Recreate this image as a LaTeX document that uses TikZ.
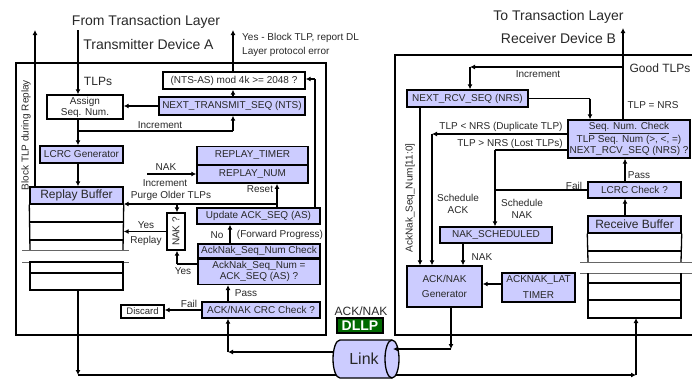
\documentclass[tikz,border=0pt]{standalone}
\usepackage{fontspec}
\setmainfont{Liberation Sans}
\usepackage{graphicx}
\usetikzlibrary{arrows.meta}
\definecolor{lav}{RGB}{204,204,255}
\definecolor{dgreen}{RGB}{0,105,0}
\definecolor{txt}{RGB}{40,40,40}
\begin{document}
\begin{tikzpicture}[x=1pt,y=-1pt,
 box/.style={draw=black,line width=1.4pt,fill=lav,inner sep=0pt,align=center,text=txt,font=\fontsize{10}{11}\selectfont},
 wbox/.style={box,fill=white},
 lbl/.style={inner sep=0pt,text=txt,font=\fontsize{10}{12}\selectfont,align=center},
 mid/.style={inner sep=0pt,text=txt,font=\fontsize{12}{14}\selectfont},
 big/.style={inner sep=0pt,text=txt,font=\fontsize{14}{16}\selectfont},
 arr/.style={line width=1.5pt,-{Latex[length=5pt,width=5pt]}},
 ln/.style={line width=1.5pt},
 dev/.style={line width=1.3pt},
 brk/.style={line width=0.8pt,draw=black!60},
]
\useasboundingbox (0,0) rectangle (692,378);
\clip (0,0) rectangle (692,378);

% ---------- device frames ----------
\draw[dev] (16,63) rectangle (326,335);
\draw[dev] (395,55) rectangle (705,335);

% ---------- titles ----------
\node[big] (fromA) at (146,22) {From Transaction Layer};
\node[big] (txA) at (148.5,44) {Transmitter Device A};
\node[big] (toB) at (558.5,17) {To Transaction Layer};
\node[big] (rxB) at (558.5,38) {Receiver Device B};

% ---------- device A nodes ----------
\node[wbox,minimum width=76,minimum height=24] (assign) at (85,107) {Assign\\Seq. Num.};
\node[box,minimum width=146,minimum height=18] (nts) at (232,106) {NEXT\_TRANSMIT\_SEQ (NTS)};
\node[wbox,minimum width=142,minimum height=17] (ntsas) at (234,80.5) {(NTS-AS) mod 4k >= 2048 ?};
\node[box,minimum width=83,minimum height=17] (lcrcg) at (81.5,154.5) {LCRC Generator};
\node[box,minimum width=93,minimum height=17,font=\fontsize{12}{14}\selectfont] (rbuf) at (76.5,195.5) {Replay Buffer};
\node[box,minimum width=111,minimum height=17.5] (rtimer) at (252.5,155.5) {REPLAY\_TIMER};
\node[box,minimum width=111,minimum height=17.5,anchor=north] (rnum) at (rtimer.south) {REPLAY\_NUM};
\node[box,minimum width=123,minimum height=16] (upas) at (258.5,216) {Update ACK\_SEQ (AS)};
\node[wbox,minimum width=18,minimum height=37] (nakq) at (176,231.5) {\rotatebox{90}{NAK ?}};
\node[box,minimum width=122,minimum height=14] (ackh) at (259,251) {AckNak\_Seq\_Num Check};
\node[box,minimum width=122,minimum height=25,anchor=north] (ackb) at (ackh.south) {AckNak\_Seq\_Num =\\ACK\_SEQ (AS) ?};
\node[box,minimum width=118,minimum height=16] (crc) at (261,310) {ACK/NAK CRC Check ?};
\node[wbox,minimum width=43,minimum height=13,font=\fontsize{9.5}{11}\selectfont] (discard) at (142.5,311.5) {Discard};

% replay buffer rows
\draw[dev] (rbuf.south west) -- (30,250) (rbuf.south east) -- (123,250);
\draw[dev] (30,222) -- (123,222) (30,240) -- (123,240);
\draw[brk] (22,250) -- (129,250) (22,262) -- (129,262);
\draw[dev] (30,262) rectangle (123,290) (30,273) -- (123,273);
\coordinate (rbufbot) at (78,290);

% ---------- device A labels ----------
\node[mid] (tlps) at (98,81) {TLPs};
\node[lbl,rotate=90] (blk) at (26,135) {Block TLP during Replay};
\node[lbl,anchor=west] (yesblk) at (242,38) {Yes - Block TLP, report DL};
\node[lbl,anchor=west] (lpe) at (242,52) {Layer protocol error};
\node[lbl] (incA) at (160,125) {Increment};
\node[lbl] (nakA) at (166,167) {NAK};
\node[lbl] (incA2) at (165,183) {Increment};
\node[lbl] (purge) at (171,196) {Purge Older TLPs};
\node[lbl] (reset) at (260,189) {Reset};
\node[lbl] (yes1) at (146,225) {Yes};
\node[lbl] (replay) at (146,241) {Replay};
\node[lbl] (yes2) at (183,271) {Yes};
\node[lbl] (no) at (217,235) {No};
\node[lbl] (fwd) at (280,235) {(Forward Progress)};
\node[lbl] (passA) at (246,293) {Pass};
\node[lbl] (failA) at (189,304) {Fail};

% ---------- device A connectors ----------
\coordinate (topA) at (78,30);
\draw[arr] (topA) -- (assign.north -| topA);
\draw[arr] (assign.south -| topA) -- (lcrcg.north -| topA);
\draw[arr] (lcrcg.south -| topA) -- (rbuf.north -| topA);
\coordinate (blkTop) at (35,30);
\draw[arr] (rbuf.north -| blkTop) -- (blkTop);
\draw[arr] (nts.west) -- (nts.west -| assign.east);
\coordinate (incL) at (78,131);
\coordinate (incR) at (233,131);
\draw[ln] (incL) -- (incR);
\draw[arr] (incR) -- (incR |- nts.south);
\draw[arr] (nts.north -| incR) -- (ntsas.south -| incR);
\coordinate (errTop) at (233,30);
\draw[arr] (ntsas.north -| errTop) -- (errTop);
\coordinate (asR) at (315,79);
\draw[ln] (upas.north -| asR) -- (asR);
\draw[arr] (asR) -- (asR -| ntsas.east);
\coordinate (rst) at (277,204);
\draw[arr] (upas.north -| rst) -- (rnum.south -| rst);
\draw[arr] (rst) -- (rst -| rbuf.east);
\coordinate (nakbr) at (177,204);
\draw[arr] (nakbr) -- (nakbr |- nakq.north);
\draw[arr] (nakq.west) -- (nakq.west -| rbuf.east);
\coordinate (nakin) at (177,264);
\draw[ln] (nakin -| ackb.west) -- (nakin);
\draw[arr] (nakin) -- (nakin |- nakq.south);
\coordinate (nakarr) at (147,174);
\draw[arr] (nakarr) -- (nakarr -| rtimer.west);
\coordinate (fp) at (230,0);
\draw[arr] (ackh.north -| fp) -- (upas.south -| fp);
\coordinate (pass) at (228,0);
\draw[arr] (crc.north -| pass) -- (ackb.south -| pass);
\draw[arr] (crc.west) -- (crc.west -| discard.east);

% ---------- device B nodes ----------
\node[box,minimum width=121,minimum height=17] (nrs) at (467.5,98.5) {NEXT\_RCV\_SEQ (NRS)};
\node[box,minimum width=122,minimum height=38] (seq) at (629,139) {\underline{Seq. Num. Check}\\TLP Seq. Num (>, <, =)\\NEXT\_RCV\_SEQ (NRS) ?};
\node[box,minimum width=93,minimum height=16] (lcrcc) at (634.5,190) {LCRC Check ?};
\node[box,minimum width=93,minimum height=17,font=\fontsize{12}{14}\selectfont] (rcv) at (634.5,224.5) {Receive Buffer};
\node[box,minimum width=112,minimum height=16] (naks) at (496,235) {NAK\_SCHEDULED};
\node[box,minimum width=75,minimum height=41,font=\fontsize{10}{15}\selectfont] (gen) at (444.5,286.5) {ACK/NAK\\Generator};
\node[box,minimum width=73,minimum height=29,font=\fontsize{10}{16}\selectfont] (lat) at (538.5,287.5) {ACKNAK\_LAT\\TIMER};

% receive buffer rows
\draw[dev] (rcv.south west) -- (588,262) (rcv.south east) -- (681,262);
\draw[dev] (588,251) -- (681,251);
\draw[brk] (580,262) -- (692,262) (580,273) -- (692,273);
\draw[dev] (588,273) -- (588,318) -- (681,318) -- (681,273) (588,283) -- (681,283) (588,300) -- (681,300);
\coordinate (rcvbot) at (636,318);

% ---------- device B labels ----------
\node[mid] (good) at (660,68) {Good TLPs};
\node[lbl] (eq) at (653,105) {TLP = NRS};
\node[lbl] (incB) at (538,74) {Increment};
\node[lbl] (dupl) at (501,127) {TLP < NRS (Duplicate TLP)};
\node[lbl] (lostl) at (510,144) {TLP > NRS (Lost TLPs)};
\node[lbl] (sack) at (458,204) {Schedule\\ACK};
\node[lbl] (snak) at (522,209) {Schedule\\NAK};
\node[lbl] (nakB) at (482,257) {NAK};
\node[lbl] (failB) at (574,186) {Fail};
\node[lbl] (passB) at (639,175) {Pass};
\node[lbl,rotate=90] (aksn) at (410,198) {AckNak\_Seq\_Num[11:0]};

% ---------- device B connectors ----------
\coordinate (goodTop) at (623,28);
\draw[arr] (seq.north -| goodTop) -- (goodTop);
\coordinate (inc1) at (623,67);
\coordinate (inc2) at (470,67);
\draw[arr] (inc1) -- (inc2);
\draw[arr] (inc2) -- (inc2 |- nrs.north);
\coordinate (ns) at (590,98.5);
\draw[ln] (nrs.east) -- (ns);
\draw[arr] (ns) -- (ns |- seq.north);
\coordinate (aks) at (420,0);
\draw[arr] (nrs.south -| aks) -- (gen.north -| aks);
\coordinate (dup) at (432,134);
\draw[arr] (dup -| seq.west) -- (dup);
\draw[arr] (dup) -- (dup |- gen.north);
\coordinate (lost) at (495,150);
\draw[ln] (lost -| seq.west) -- (lost);
\draw[arr] (lost) -- (lost |- naks.north);
\coordinate (failR) at (495,190);
\draw[ln] (lcrcc.west) -- (failR);
\coordinate (nk) at (463,0);
\draw[arr] (naks.south -| nk) -- (gen.north -| nk);
\coordinate (lw) at (0,284);
\draw[arr] (lat.west |- lw) -- (gen.east |- lw);
\coordinate (pr) at (625,0);
\draw[arr] (lcrcc.north -| pr) -- (seq.south -| pr);
\draw[arr] (rcv.north -| pr) -- (lcrcc.south -| pr);

% ---------- link and bottom path ----------
\coordinate (b1) at (78,375);
\coordinate (b2) at (636,375);
\draw[arr] (rbufbot) -- (b1);
\draw[arr] (b1) -- (b2);
\draw[arr] (b2) -- (b2 |- rcvbot);

\draw[line width=1.3pt,fill=lav] (392,340) -- (340,340) arc[start angle=270,end angle=90,x radius=7,y radius=19] -- (392,378);
\draw[line width=1.3pt,fill=lav] (392,359) ellipse[x radius=7,y radius=19];
\node[inner sep=0pt,text=txt,font=\fontsize{16}{18}\selectfont] (link) at (364,359) {Link};
\coordinate (linkL) at (333.5,352);
\coordinate (linkR) at (393,349);

\coordinate (lk1) at (228,352);
\draw[arr] (linkL) -- (lk1);
\draw[arr] (lk1) -- (lk1 |- crc.south);
\coordinate (g1) at (451,349);
\draw[arr] (gen.south -| g1) -- (g1);
\draw[arr] (g1) -- (linkR);

\node[mid] (acknak) at (361,311) {ACK/NAK};
\node[draw=black,line width=1.2pt,fill=dgreen,text=white,inner sep=0pt,minimum width=46,minimum height=15,font=\fontsize{14}{16}\selectfont\bfseries] (dllp) at (360,325.5) {DLLP};
\end{tikzpicture}
\end{document}
